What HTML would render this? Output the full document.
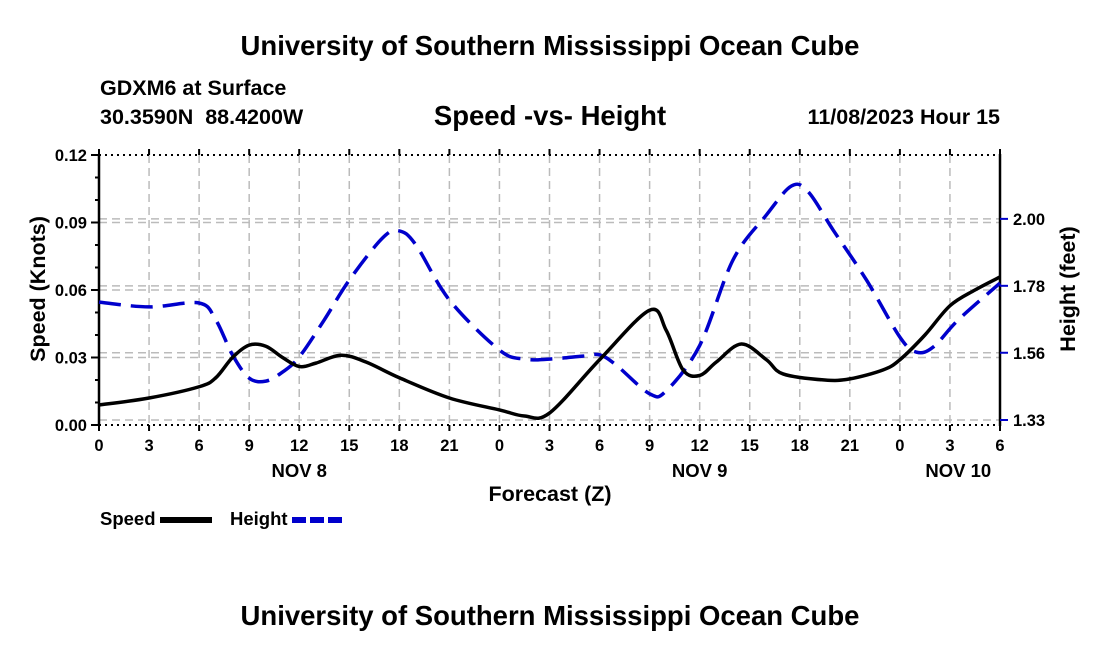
<!DOCTYPE html>
<html><head><meta charset="utf-8"><style>
body{margin:0;background:#fff;width:1100px;height:650px;overflow:hidden}
svg text{font-family:"Liberation Sans",Arial,sans-serif;font-weight:bold;fill:#000;white-space:pre}
</style></head><body>
<svg id="chart" width="1100" height="650" xmlns="http://www.w3.org/2000/svg">
<text x="550" y="55" font-size="27.5" text-anchor="middle">University of Southern Mississippi Ocean Cube</text>
<text x="100" y="95" font-size="21.5">GDXM6 at Surface</text>
<text x="100" y="124" font-size="21.5" xml:space="preserve">30.3590N  88.4200W</text>
<text x="550" y="125" font-size="27.5" text-anchor="middle">Speed -vs- Height</text>
<text x="1000" y="124" font-size="21.5" text-anchor="end">11/08/2023 Hour 15</text>
<g id="grid"></g>
<g id="axes"></g>
<g id="series"></g>
<text x="550" y="501" font-size="21.5" text-anchor="middle">Forecast (Z)</text>
<text transform="translate(45,289) rotate(-90)" font-size="21.5" text-anchor="middle">Speed (Knots)</text>
<text transform="translate(1075,289) rotate(-90)" font-size="21.5" text-anchor="middle">Height (feet)</text>
<g>
<text x="100" y="525" font-size="18.5">Speed</text>
<line x1="160" y1="520" x2="212" y2="520" stroke="#000" stroke-width="6"/>
<text x="230" y="525" font-size="18.5">Height</text>
<line x1="292" y1="520" x2="342" y2="520" stroke="#0000cc" stroke-width="6" stroke-dasharray="14,4"/>
</g>
<text x="550" y="625" font-size="27.5" text-anchor="middle">University of Southern Mississippi Ocean Cube</text>
</svg>
<script>
const xTickLabels=["0","3","6","9","12","15","18","21","0","3","6","9","12","15","18","21","0","3","6"];
const dayLabels=["NOV 8","NOV 9","NOV 10"];
const dayHours=[12,36,51.5];
const speedTicks=[0,0.03,0.06,0.09,0.12];
const heightTicks=[1.333,1.556,1.778,2.0];
const speedHours=[0,3,6,7,8,9,10,11,12,13,14.5,16,18,21,24,25.5,27,30,33,34,35,36,37,38.5,40,41,43.5,45,47,48,49.5,51,52.5,54];
const speedValues=[0.0089,0.012,0.017,0.021,0.030,0.0355,0.035,0.030,0.026,0.0275,0.031,0.028,0.021,0.012,0.0067,0.004,0.0053,0.029,0.051,0.042,0.0245,0.022,0.028,0.036,0.029,0.0227,0.020,0.0205,0.0245,0.029,0.040,0.053,0.060,0.0658];
const heightHours=[0,3,6,7,8,9,10,11,12,13.5,15,17,18,19,21,24,25.5,27,29,30,31,33,34,36,38,40,41.5,42.5,44,46,48,49,50,51.5,54];
const heightValues=[1.724,1.708,1.721,1.665,1.549,1.472,1.462,1.492,1.542,1.665,1.797,1.937,1.96,1.913,1.731,1.565,1.535,1.535,1.545,1.549,1.515,1.42,1.43,1.58,1.864,2.013,2.109,2.09,1.963,1.797,1.608,1.558,1.575,1.665,1.787];
const X0=99,X1=1000,YT=155,YB=425;
const xS=h=>X0+h*(X1-X0)/54;
const yS=v=>YB-v/0.12*(YB-YT);
const yH=h=>420-(h-1.333)/0.2222*67;
const NS="http://www.w3.org/2000/svg";
function mk(p,tag,at){const e=document.createElementNS(NS,tag);for(const k in at)e.setAttribute(k,at[k]);p.appendChild(e);return e;}
const grid=document.getElementById('grid'),axes=document.getElementById('axes'),series=document.getElementById('series');
const gs={stroke:"#bbb","stroke-width":1.5,"stroke-dasharray":"8,5",fill:"none"};
for(let i=1;i<18;i++){const l=mk(grid,'line',Object.assign({x1:xS(i*3),x2:xS(i*3),y1:YT,y2:YB},gs));

}
speedTicks.forEach(v=>{if(v>0&&v<0.12){const l=mk(grid,'line',Object.assign({x1:X0,x2:X1,y1:yS(v),y2:yS(v)},gs));

}});
heightTicks.forEach(v=>{const l=mk(grid,'line',Object.assign({x1:X0,x2:X1,y1:yH(v),y2:yH(v)},gs));

});
[[X0,YT,X1,YT],[X0,YB,X1,YB]].forEach(a=>{const l=mk(axes,'line',{x1:a[0],y1:a[1],x2:a[2],y2:a[3],stroke:"#000","stroke-width":2,"stroke-dasharray":"2,4"});

});
[[X0],[X1]].forEach(a=>{const l=mk(axes,'line',{x1:a[0],y1:YT-1,x2:a[0],y2:YB+1,stroke:"#000","stroke-width":2.5});

});
xTickLabels.forEach((t,i)=>{const x=xS(i*3);
const tk=mk(axes,'line',{x1:x,x2:x,y1:YB,y2:YB+6,stroke:"#000","stroke-width":2});


const tk2=mk(axes,'line',{x1:x,x2:x,y1:YT-6,y2:YT,stroke:"#000","stroke-width":2});


const tx=mk(axes,'text',{x:x,y:451,"font-size":16.5,"text-anchor":"middle"});tx.textContent=t;

});
dayLabels.forEach((d,i)=>{const tx=mk(axes,'text',{x:xS(dayHours[i]),y:477,"font-size":18.5,"text-anchor":"middle"});tx.textContent=d;

});
for(let v=0;v<=0.1201;v+=0.01){const y=yS(v),big=Math.abs(v/0.03-Math.round(v/0.03))<1e-6;
const tk=mk(axes,'line',{x1:X0-(big?8:4),x2:X0,y1:y,y2:y,stroke:"#000","stroke-width":2});

}
speedTicks.forEach(v=>{const tx=mk(axes,'text',{x:87,y:yS(v)+6,"font-size":16.5,"text-anchor":"end"});tx.textContent=v.toFixed(2);

});
heightTicks.forEach(v=>{const y=yH(v);
const tk=mk(axes,'line',{x1:X1,x2:X1+8,y1:y,y2:y,stroke:"#0000cc","stroke-width":2});


const tx=mk(axes,'text',{x:1013,y:y+6,"font-size":16.5});tx.textContent=v.toFixed(2);

});
function smooth(pts){let d=`M${pts[0][0]},${pts[0][1]}`;
for(let i=0;i<pts.length-1;i++){const p0=pts[Math.max(0,i-1)],p1=pts[i],p2=pts[i+1],p3=pts[Math.min(pts.length-1,i+2)];
d+=` C${p1[0]+(p2[0]-p0[0])/6},${p1[1]+(p2[1]-p0[1])/6} ${p2[0]-(p3[0]-p1[0])/6},${p2[1]-(p3[1]-p1[1])/6} ${p2[0]},${p2[1]}`;}
return d;}
const hp=mk(series,'path',{d:smooth(heightHours.map((h,i)=>[xS(h),yH(heightValues[i])])),fill:"none",stroke:"#0000cc","stroke-width":3.5,"stroke-dasharray":"22,10"});


const sp=mk(series,'path',{d:smooth(speedHours.map((h,i)=>[xS(h),yS(speedValues[i])])),fill:"none",stroke:"#000","stroke-width":3.5});


</script>
</body></html>
